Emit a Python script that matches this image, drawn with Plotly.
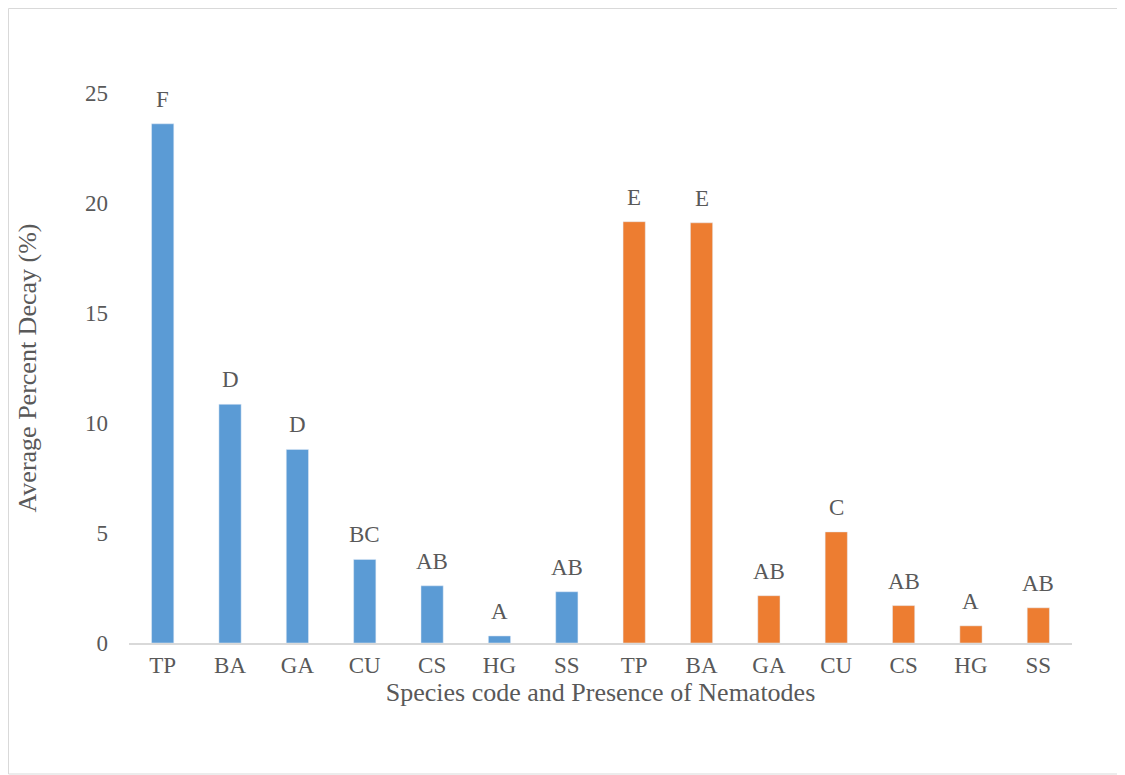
import plotly.graph_objects as go

species = ["TP", "BA", "GA", "CU", "CS", "HG", "SS"]
blue_values = [23.6, 10.85, 8.8, 3.8, 2.6, 0.32, 2.33]
orange_values = [19.15, 19.1, 2.15, 5.05, 1.7, 0.78, 1.6]
blue_letters = ["F", "D", "D", "BC", "AB", "A", "AB"]
orange_letters = ["E", "E", "AB", "C", "AB", "A", "AB"]

BLUE = "#5B9BD5"
ORANGE = "#ED7D31"
TXT = "#595959"
FONT = "Liberation Serif, Times New Roman, serif"

n = len(species)
x_blue = list(range(n))
x_orange = list(range(n, 2 * n))

fig = go.Figure()
fig.add_trace(go.Bar(x=x_blue, y=blue_values, marker_color=BLUE, showlegend=False))
fig.add_trace(go.Bar(x=x_orange, y=orange_values, marker_color=ORANGE, showlegend=False))

for xs, vals, letters in [(x_blue, blue_values, blue_letters), (x_orange, orange_values, orange_letters)]:
    for xx, v, t in zip(xs, vals, letters):
        fig.add_annotation(x=xx, y=v, text=t, showarrow=False, yanchor="bottom",
                           yshift=10, font=dict(family=FONT, size=23, color=TXT))

# page body has an 8px offset
W, H = 1117, 767
L, R, T, B = 121, 53, 85, 132
pw, ph = W - L - R, H - T - B

fig.add_shape(type="rect", xref="paper", yref="paper",
              x0=(0.5 - L) / pw, x1=(W - 1 - L) / pw,
              y0=(H - B - (H - 1)) / ph, y1=1 + (T - 0.5) / ph,
              line=dict(color="#D9D9D9", width=1), layer="below")

fig.update_layout(
    width=W, height=H,
    margin=dict(l=L, r=R, t=T, b=B),
    plot_bgcolor="white", paper_bgcolor="white",
    barmode="overlay", bargap=0.67,
    font=dict(family=FONT, color=TXT, size=23),
)
fig.update_xaxes(
    tickmode="array", tickvals=x_blue + x_orange, ticktext=species + species,
    range=[-0.5, 2 * n - 0.5], showline=True, linecolor="#D9D9D9", linewidth=2,
    ticks="", showgrid=False, zeroline=False,
    tickfont=dict(family=FONT, size=23, color=TXT),
    title=dict(text="Species code and Presence of Nematodes", standoff=0,
               font=dict(family=FONT, size=26, color=TXT)),
)
fig.update_yaxes(
    range=[0, 25], tickvals=[0, 5, 10, 15, 20, 25], showgrid=False, zeroline=False,
    showline=False, ticks="", ticklabelstandoff=20,
    tickfont=dict(family=FONT, size=23, color=TXT),
    title=dict(text="Average Percent Decay (%)", standoff=40,
               font=dict(family=FONT, size=26, color=TXT)),
)

fig.write_html("out.html")
